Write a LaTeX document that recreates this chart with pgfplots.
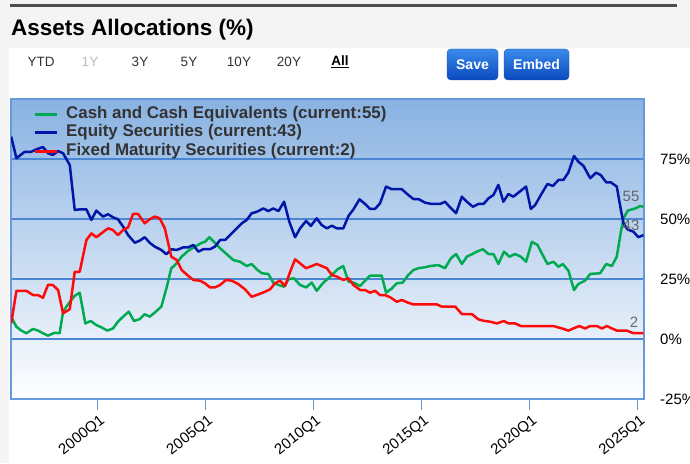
\documentclass[border=0pt]{standalone}
\usepackage{pgfplots}
\pgfplotsset{compat=1.18}
\usepackage{fontspec}
\setmainfont{Liberation Sans}
\definecolor{cgreen}{HTML}{00AA50}
\definecolor{cblue}{HTML}{0016A8}
\definecolor{cred}{HTML}{FF0A0A}
\definecolor{bandgray}{HTML}{F4F4F4}
\definecolor{darkline}{HTML}{4D4D4D}
\definecolor{plottop}{HTML}{89B2E2}
\definecolor{gridblue}{HTML}{4A86D4}
\definecolor{framec}{HTML}{6699DD}
\definecolor{legtext}{HTML}{333333}
\definecolor{labgray}{HTML}{666666}
\definecolor{btntop}{HTML}{3A8CEB}
\definecolor{btnbot}{HTML}{0A48BE}
\definecolor{btnedge}{HTML}{1A4FA8}

\pgfplotstableread{
x y
1996.01 84.3
1996.25 75.3
1996.63 78
1996.94 78
1997.17 79
1997.48 80
1997.71 77.4
1997.94 76.7
1998.18 78.3
1998.41 77.4
1998.72 72.5
1998.95 53.75
1999.18 54
1999.49 54
1999.72 49.6
1999.95 53.5
2000.26 51
2000.49 52
2000.72 50.7
2000.95 49.9
2001.19 46.8
2001.42 43.3
2001.73 40.1
2001.96 41
2002.19 42.4
2002.42 40.1
2002.65 38.5
2002.96 37.1
2003.19 35.3
2003.42 37.4
2003.67 37.1
2003.98 38.2
2004.21 38.2
2004.44 39.2
2004.67 36.4
2004.90 37.4
2005.21 37.4
2005.44 38.5
2005.68 41.25
2005.91 41.25
2006.14 43.3
2006.45 46.1
2006.68 48.2
2006.91 49.6
2007.14 52.4
2007.38 53
2007.68 54.4
2007.91 53.3
2008.14 54.4
2008.38 53.3
2008.64 57.2
2008.88 48.9
2009.15 42.4
2009.38 46.1
2009.66 49.2
2009.88 47.1
2010.15 50.3
2010.38 47.5
2010.62 46.1
2010.85 47.2
2011.08 46.1
2011.38 46.1
2011.62 51.25
2011.85 54
2012.13 58.2
2012.39 56.25
2012.62 54.2
2012.85 54.2
2013.08 56.5
2013.36 63.5
2013.63 62.4
2014.09 62.4
2014.39 60
2014.63 58.3
2014.86 58.3
2015.17 56.8
2015.48 56.25
2015.86 56.25
2016.09 57.2
2016.32 54.9
2016.60 52.4
2016.87 59.3
2017.10 57.2
2017.38 55.1
2017.63 56.25
2017.87 56.25
2018.10 58.6
2018.33 60
2018.56 64.2
2018.79 57.2
2019.02 60.4
2019.25 59.3
2019.49 61
2019.84 63.5
2020.06 54.2
2020.26 55.8
2020.57 60.7
2020.83 64.6
2021.08 63.75
2021.34 66.25
2021.57 66.25
2021.80 69.4
2022.06 76.25
2022.26 73.9
2022.50 72.1
2022.81 67
2023.08 69.3
2023.30 68.3
2023.55 65.3
2023.76 65.3
2024.04 63.5
2024.23 53.75
2024.35 48.2
2024.53 45.7
2024.81 44.7
2025.04 42.4
2025.27 43.3
}\equity

\pgfplotstableread{
x y
1996.01 9.3
1996.25 5.1
1996.48 3.5
1996.71 2.4
1997.02 4.2
1997.25 3.5
1997.48 2.4
1997.71 1.4
1998.02 2.6
1998.25 2.4
1998.41 11.4
1998.72 15.5
1998.95 18
1999.18 19.3
1999.44 6.5
1999.69 7.5
1999.95 5.8
2000.18 4.9
2000.46 3.5
2000.72 4.4
2000.95 7.2
2001.19 9.3
2001.45 11.4
2001.69 7.5
2001.96 8.3
2002.19 10.3
2002.42 9.3
2002.65 11
2002.96 13.5
2003.19 21
2003.42 29.5
2003.59 30.8
2003.90 34.3
2004.21 36.8
2004.52 38.5
2004.83 40.1
2004.98 40.5
2005.18 42.4
2005.44 40.1
2005.68 37.8
2005.99 35.3
2006.29 32.9
2006.60 32.2
2006.91 30.4
2007.14 31.25
2007.38 29
2007.61 27.4
2007.91 27.1
2008.14 23.5
2008.38 22.5
2008.64 21.8
2008.84 24.9
2009.10 25.3
2009.38 22.5
2009.66 21.5
2009.92 23.5
2010.15 20.1
2010.46 23.5
2010.74 25.7
2011.00 28
2011.11 29
2011.38 30.4
2011.62 23.9
2011.85 23.5
2012.16 22.1
2012.39 24.3
2012.62 26.4
2013.16 26.4
2013.36 19.3
2013.63 21.1
2013.86 23.2
2014.13 23.5
2014.39 26.7
2014.63 28.75
2014.86 29.5
2015.17 29.9
2015.40 30.4
2015.78 30.8
2016.09 29.5
2016.36 33.6
2016.60 35.4
2016.87 31.25
2017.10 34.3
2017.33 35.3
2017.56 36.4
2017.84 37.4
2018.10 35.4
2018.33 35.4
2018.56 31.25
2018.82 36.4
2019.07 34.3
2019.33 35.4
2019.60 34.3
2019.84 32.2
2020.11 40.5
2020.37 39.2
2020.57 35.7
2020.83 31.25
2021.11 32.2
2021.34 30.1
2021.54 31.25
2021.80 28.5
2022.06 20.4
2022.26 22.9
2022.57 24.3
2022.81 27.1
2023.27 27.4
2023.55 31.25
2023.81 30.4
2024.04 34.3
2024.23 44.7
2024.35 50.3
2024.55 53.5
2024.89 54.4
2025.12 55.4
2025.27 55.1
}\cash

\pgfplotstableread{
x y
1996.01 6.5
1996.25 20.1
1996.71 20.1
1997.02 18.3
1997.25 18.3
1997.48 17.2
1997.71 22.5
1997.94 22.5
1998.18 20.4
1998.41 10.7
1998.72 12.4
1998.95 28
1999.18 28
1999.49 41.25
1999.72 44
1999.95 42.4
2000.18 44
2000.49 46.1
2000.72 45.4
2000.95 43.3
2001.19 45.4
2001.42 46.5
2001.65 52.1
2001.88 52.1
2002.19 48.2
2002.42 49.9
2002.65 51
2002.88 50.3
2003.12 46.1
2003.42 34.3
2003.67 32.9
2003.90 28.75
2004.21 26.25
2004.44 24.6
2004.75 24.3
2004.98 23.2
2005.21 21.5
2005.44 21.5
2005.68 22.5
2005.95 24.6
2006.22 24.3
2006.52 22.9
2006.83 20.7
2007.14 17.6
2007.45 18.6
2007.76 19.7
2007.99 20.7
2008.22 23.2
2008.45 24.3
2008.69 22.1
2008.92 28
2009.15 33.2
2009.38 31.5
2009.66 29.5
2009.92 30.4
2010.15 31.25
2010.38 30.4
2010.62 29.5
2010.85 26.7
2011.08 26
2011.38 24.6
2011.62 25.3
2011.85 22.5
2012.16 20.4
2012.39 20.4
2012.62 19.3
2012.85 20.1
2013.08 18.3
2013.31 18.3
2013.55 17.4
2013.86 15.5
2014.09 16.25
2014.39 15.1
2014.63 14.4
2015.71 14.4
2015.94 13.5
2016.56 13.5
2016.87 10.4
2017.33 10.4
2017.63 8.2
2017.87 7.6
2018.18 7.2
2018.49 6.5
2018.82 7.5
2019.02 6.5
2019.33 6.5
2019.60 5.4
2021.11 5.4
2021.50 4.4
2021.80 3.5
2022.03 4.4
2022.31 5.4
2022.57 4.4
2022.81 5.4
2023.12 5.4
2023.35 4.4
2023.58 5.4
2023.81 4.4
2024.04 3.5
2024.50 3.5
2024.81 2.4
2025.27 2.4
}\fixed

\begin{document}
\begin{tikzpicture}[x=1pt,y=1pt]
\useasboundingbox (0,0) rectangle (690,463);
\fill[white] (0,0) rectangle (690,463);
\fill[bandgray] (0,415) rectangle (690,463);
\fill[bandgray] (0,0) rectangle (9,415);
\draw[line width=3pt, darkline] (10,457) -- (677,457);
\node[anchor=west, inner sep=0pt, font=\bfseries\fontsize{22.5}{24}\selectfont, text=black] at (11,433) {Assets Allocations (\%)};
% range selector
\begin{scope}[every node/.style={font=\fontsize{13.5}{14}\selectfont, text=legtext, inner sep=0pt}]
\node at (41,401) {YTD};
\node[text=black!27] at (90,401) {1Y};
\node at (140,401) {3Y};
\node at (189,401) {5Y};
\node at (239,401) {10Y};
\node at (289,401) {20Y};
\node[font=\bfseries\fontsize{13.5}{14}\selectfont, text=black] at (340,401) {\underline{All}};
\end{scope}
% buttons
\shade[top color=btntop, bottom color=btnbot, rounded corners=4pt, draw=btnedge] (447,383) rectangle (498,414);
\shade[top color=btntop, bottom color=btnbot, rounded corners=4pt, draw=btnedge] (504,383) rectangle (569,414);
\node[text=white, font=\bfseries\fontsize{14}{14}\selectfont] at (472.5,398.5) {Save};
\node[text=white, font=\bfseries\fontsize{14}{14}\selectfont] at (536.5,398.5) {Embed};

\begin{axis}[
  at={(11pt,64pt)}, anchor=south west,
  scale only axis, width=633pt, height=300pt,
  xmin=1996, xmax=2025.3, ymin=-25, ymax=100,
  axis background/.style={top color=plottop, bottom color=white},
  axis line style={draw=framec, line width=1.5pt},
  xtick={2000,2005,2010,2015,2020,2025},
  xticklabels={2000Q1,2005Q1,2010Q1,2015Q1,2020Q1,2025Q1},
  xtick pos=left, tick align=outside, major tick length=11pt,
  xtick style={draw=framec, line width=1.2pt},
  x tick label style={rotate=38, anchor=north east, inner sep=1pt, yshift=-3pt, font=\fontsize{15}{15}\selectfont, text=black},
  ytick={-25,0,25,50,75},
  yticklabels={-25\%,0\%,25\%,50\%,75\%},
  yticklabel pos=right,
  ytick style={draw=none},
  y tick label style={anchor=west, inner sep=0pt, xshift=5pt, font=\fontsize{15}{15}\selectfont, text=black},
  ymajorgrids=true,
  major grid style={draw=gridblue, line width=1.2pt},
  legend style={at={(rel axis cs:0,1)}, anchor=north west, xshift=22pt, yshift=-7.5pt,
    draw=none, fill=none, inner sep=0pt, row sep=2.8pt, column sep=8pt,
    font=\bfseries\fontsize{16.9}{18}\selectfont, text=legtext,
    nodes={inner sep=0pt, text height=12pt, text depth=3.5pt}},
  legend cell align=left,
  legend image code/.code={\draw[#1, line width=3pt] (0pt,0pt) -- (22pt,0pt);},
  clip=true,
]
\addplot[cgreen, line width=2.5pt, line join=round] table {\cash};
\addlegendentry{Cash and Cash Equivalents (current:55)}
\addplot[cblue, line width=2.5pt, line join=round] table {\equity};
\addlegendentry{Equity Securities (current:43)}
\addplot[cred, line width=2.5pt, line join=round] table {\fixed};
\addlegendentry{Fixed Maturity Securities (current:2)}
\draw[framec, line width=3pt] (rel axis cs:0,1) -- (rel axis cs:1,1);
\node[text=labgray, font=\fontsize{15}{15}\selectfont] at (axis cs:2024.70,59.6) {55};
\node[text=labgray, font=\fontsize{15}{15}\selectfont] at (axis cs:2024.70,47.3) {43};
\node[text=labgray, font=\fontsize{15}{15}\selectfont] at (axis cs:2024.84,7.1) {2};
\end{axis}
\end{tikzpicture}
\end{document}
